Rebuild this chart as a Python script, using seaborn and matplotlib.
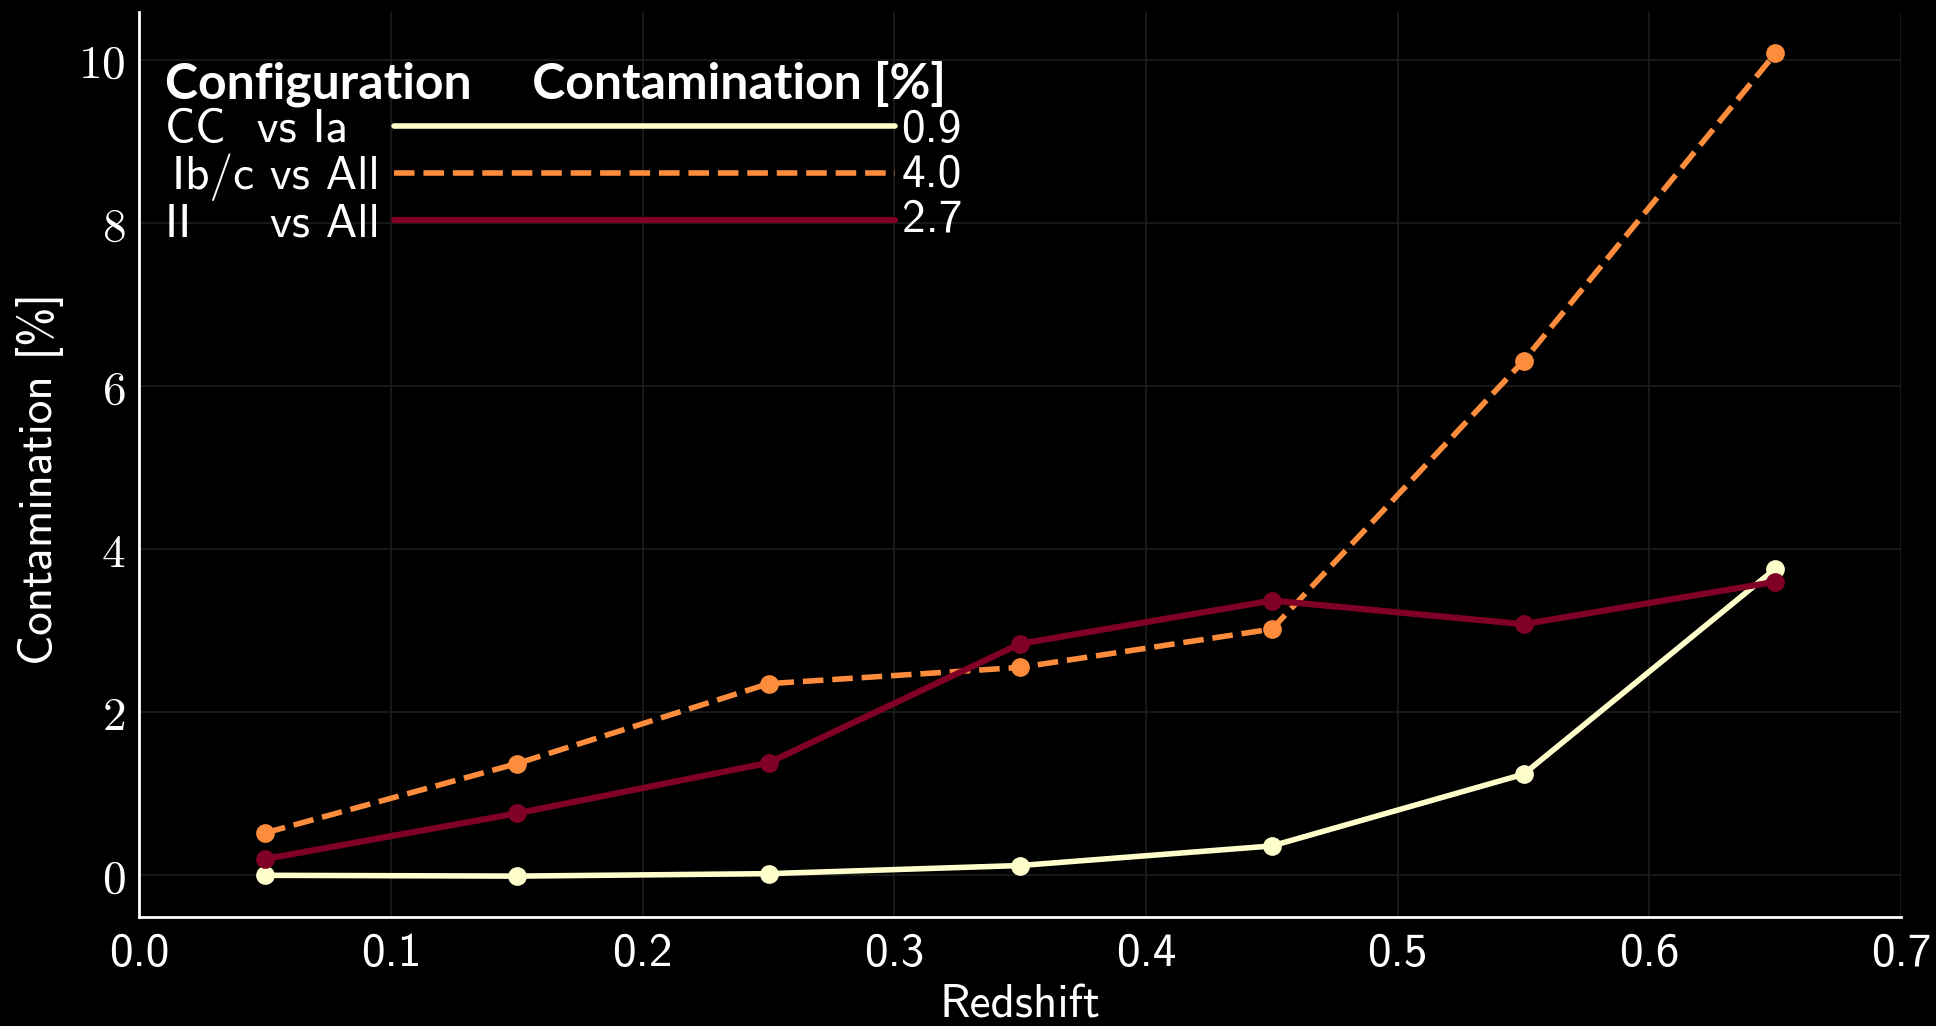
import numpy as np
import pandas as pd
import matplotlib
matplotlib.use("Agg")
import matplotlib.pyplot as plt
from matplotlib.lines import Line2D
from matplotlib.ticker import MultipleLocator, FuncFormatter
import seaborn as sns

# ---- data ----
redshift = [0.05, 0.15, 0.25, 0.35, 0.45, 0.55, 0.65]
cc_vs_ia = [0.0, -0.01, 0.02, 0.12, 0.36, 1.24, 3.76]
ibc_vs_all = [0.52, 1.37, 2.35, 2.55, 3.02, 6.31, 10.08]
ii_vs_all = [0.20, 0.76, 1.38, 2.84, 3.37, 3.08, 3.60]
config_labels = ["CC  vs Ia  ", "Ib/c vs All", "II     vs All"]
total_contam = ["0.9", "4.0", "2.7"]
xticks = [0.0, 0.1, 0.2, 0.3, 0.4, 0.5, 0.6, 0.7]
yticks = [0, 2, 4, 6, 8, 10]

colors = ["#ffffcc", "#fd8d3c", "#800026"]
styles = ["-", "--", "-"]
widths = [4.0, 4.0, 4.5]

sns.set_style("dark")
plt.rcParams["mathtext.fontset"] = "cm"
SANS = "cmss10"
FS = 34

fig = plt.figure(figsize=(19.36, 10.26), dpi=100, facecolor="black")
ax = fig.add_axes([0.072, 0.106, 0.91, 0.882])
ax.set_facecolor("black")

df = pd.DataFrame({"z": redshift, "cc": cc_vs_ia, "ibc": ibc_vs_all, "ii": ii_vs_all})
for col, c, ls, lw in zip(["cc", "ibc", "ii"], colors, styles, widths):
    sns.lineplot(data=df, x="z", y=col, ax=ax, color=c, linestyle=ls, linewidth=lw,
                 marker="o", markersize=13.5, markeredgewidth=0, zorder=3)

ax.set_xlim(0, 0.7)
ax.set_xticks(xticks)
ax.set_yticks(yticks)
ax.xaxis.set_minor_locator(MultipleLocator(0.02))
ax.yaxis.set_minor_locator(MultipleLocator(0.5))
ax.xaxis.set_major_formatter(FuncFormatter(lambda v, p: f"{v:.1f}"))
ax.yaxis.set_major_formatter(FuncFormatter(lambda v, p: f"${v:g}$"))

ax.grid(True, which="major", color="#1e1e1e", linewidth=1.2)
for s in ["top", "right"]:
    ax.spines[s].set_visible(False)
for s in ["left", "bottom"]:
    ax.spines[s].set_visible(True)
    ax.spines[s].set_color("white")
    ax.spines[s].set_linewidth(2)

ax.tick_params(which="both", direction="in", colors="white")
ax.tick_params(which="major", length=8, width=1.8, labelsize=FS)
ax.tick_params(axis="x", which="major", pad=11)
ax.tick_params(axis="y", which="major", pad=10)
ax.tick_params(which="minor", length=4, width=1.2)
for t in ax.get_xticklabels():
    t.set_fontfamily(SANS)

ax.set_xlabel("Redshift", fontsize=FS, color="white", family=SANS, labelpad=7)
ax.set_ylabel("Contamination [%]", fontsize=FS, color="white", family=SANS)
ax.yaxis.set_label_coords(-0.0426, 0.484)

handles = [Line2D([], [], color=c, ls=ls, lw=lw) for c, ls, lw in zip(colors, styles, widths)]
blank = [Line2D([], [], color="none", lw=0) for _ in total_contam]
leg = ax.legend(handles + blank, config_labels + total_contam, ncol=2, markerfirst=False,
                loc="upper left", bbox_to_anchor=(0.0145, 0.947), frameon=False,
                handlelength=10.6, handletextpad=0.3, columnspacing=0.15,
                labelspacing=0.05, borderaxespad=0, borderpad=0,
                title="Configuration     Contamination [%]",
                title_fontproperties={"family": "Lato", "weight": "bold", "size": 36},
                prop={"family": SANS, "size": FS}, alignment="left")
for t in leg.get_texts():
    t.set_color("white")
leg.get_title().set_color("white")

fig.savefig("out.png", dpi=100, facecolor="black")
